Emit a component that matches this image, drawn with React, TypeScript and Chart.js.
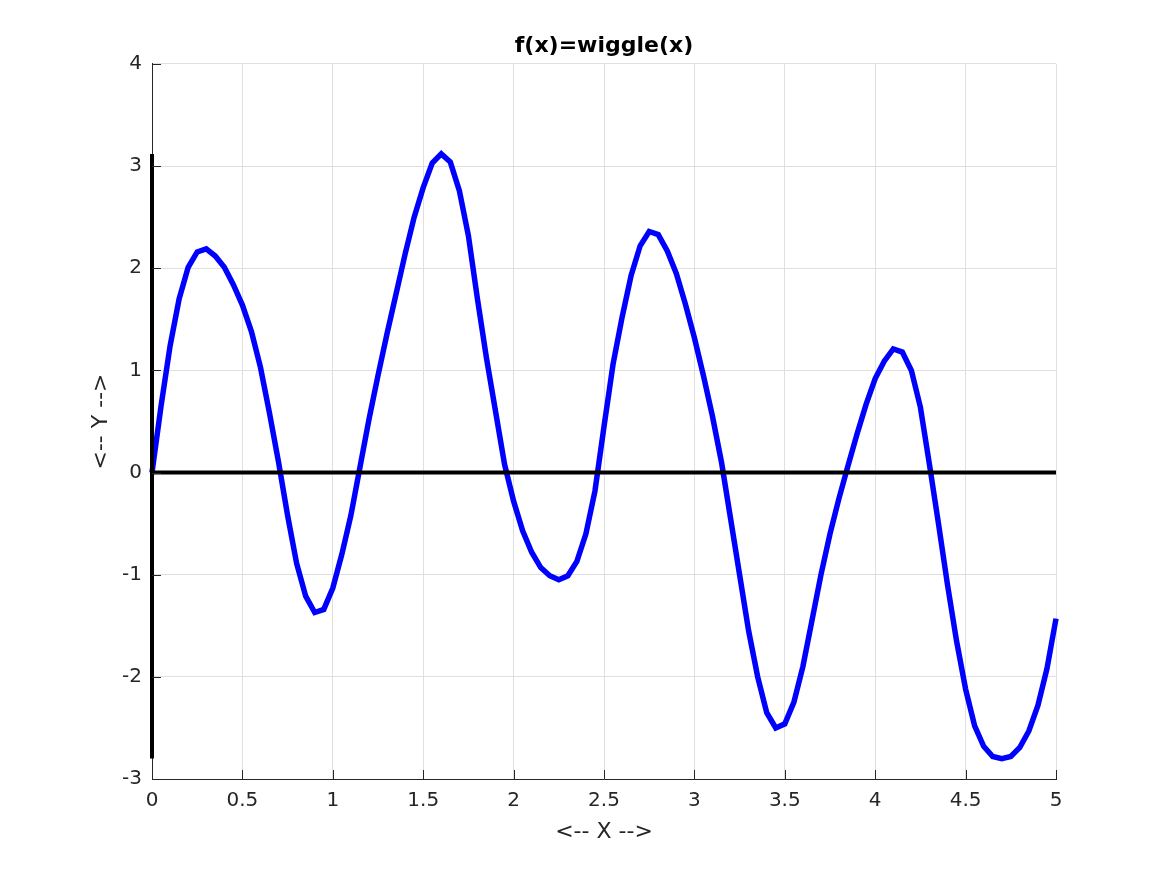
import React, { useEffect, useRef } from "react";
import { Chart, registerables } from "chart.js";

Chart.register(...registerables);

const xValues = [
  0, 0.05, 0.1, 0.15, 0.2, 0.25, 0.3, 0.35, 0.4, 0.45,
  0.5, 0.55, 0.6, 0.65, 0.7, 0.75, 0.8, 0.85, 0.9, 0.95,
  1, 1.05, 1.1, 1.15, 1.2, 1.25, 1.3, 1.35, 1.4, 1.45,
  1.5, 1.55, 1.6, 1.65, 1.7, 1.75, 1.8, 1.85, 1.9, 1.95,
  2, 2.05, 2.1, 2.15, 2.2, 2.25, 2.3, 2.35, 2.4, 2.45,
  2.5, 2.55, 2.6, 2.65, 2.7, 2.75, 2.8, 2.85, 2.9, 2.95,
  3, 3.05, 3.1, 3.15, 3.2, 3.25, 3.3, 3.35, 3.4, 3.45,
  3.5, 3.55, 3.6, 3.65, 3.7, 3.75, 3.8, 3.85, 3.9, 3.95,
  4, 4.05, 4.1, 4.15, 4.2, 4.25, 4.3, 4.35, 4.4, 4.45,
  4.5, 4.55, 4.6, 4.65, 4.7, 4.75, 4.8, 4.85, 4.9, 4.95,
  5,
];

const yValues = [
  0, 0.65, 1.24, 1.7, 2.01, 2.16, 2.19, 2.12, 2.01, 1.84,
  1.64, 1.38, 1.03, 0.58, 0.1, -0.42, -0.89, -1.21, -1.37, -1.34,
  -1.13, -0.8, -0.42, 0.05, 0.52, 0.95, 1.36, 1.75, 2.14, 2.5,
  2.79, 3.03, 3.12, 3.04, 2.76, 2.32, 1.7, 1.12, 0.6, 0.08,
  -0.28, -0.57, -0.78, -0.93, -1.01, -1.05, -1.01, -0.87, -0.6, -0.18,
  0.45, 1.06, 1.52, 1.93, 2.22, 2.36, 2.33, 2.17, 1.95, 1.65,
  1.32, 0.95, 0.55, 0.1, -0.45, -1.0, -1.55, -2.0, -2.35, -2.5,
  -2.46, -2.25, -1.9, -1.45, -1.0, -0.6, -0.25, 0.07, 0.38, 0.67,
  0.92, 1.09, 1.21, 1.18, 1.0, 0.64, 0.08, -0.5, -1.1, -1.65,
  -2.12, -2.48, -2.68, -2.78, -2.8, -2.78, -2.69, -2.53, -2.28, -1.92,
  -1.43,
];

const xTicks = [0, 0.5, 1, 1.5, 2, 2.5, 3, 3.5, 4, 4.5, 5];
const xTickLabels = ["0", "0.5", "1", "1.5", "2", "2.5", "3", "3.5", "4", "4.5", "5"];
const yTicks = [-3, -2, -1, 0, 1, 2, 3, 4];
const yTickLabels = ["-3", "-2", "-1", "0", "1", "2", "3", "4"];

const titleText = "f(x)=wiggle(x)";
const xLabelText = "<-- X -->";
const yLabelText = "<-- Y -->";

const FONT = "'DejaVu Sans', 'Noto Sans', sans-serif";
const AXIS_COLOR = "#262626";
const GRID_COLOR = "#dfdfdf";

const inwardTicks = {
  id: "inwardTicks",
  afterDraw(chart: any) {
    const { ctx, chartArea, scales } = chart;
    const xs = scales.x;
    const ys = scales.y;
    const len = 9;
    ctx.save();
    ctx.strokeStyle = AXIS_COLOR;
    ctx.lineWidth = 1;
    ctx.beginPath();
    xTicks.forEach((v) => {
      const px = Math.round(xs.getPixelForValue(v)) + 0.5;
      ctx.moveTo(px, chartArea.bottom);
      ctx.lineTo(px, chartArea.bottom - len);
    });
    yTicks.forEach((v) => {
      const py = Math.round(ys.getPixelForValue(v)) + 0.5;
      ctx.moveTo(chartArea.left, py);
      ctx.lineTo(chartArea.left + len, py);
    });
    ctx.stroke();
    ctx.restore();
  },
};

export default function App() {
  const canvasRef = useRef<HTMLCanvasElement | null>(null);

  useEffect(() => {
    const canvas = canvasRef.current;
    if (!canvas) return;

    const curve = xValues.map((x, i) => ({ x, y: yValues[i] }));
    const xMin = xValues[0];
    const xMax = xValues[xValues.length - 1];
    const yMin = Math.min(...yValues);
    const yMax = Math.max(...yValues);

    const chart = new Chart(canvas, {
      type: "line",
      data: {
        datasets: [
          {
            data: [
              { x: xMin, y: 0 },
              { x: xMax, y: 0 },
            ],
            borderColor: "#000000",
            borderWidth: 4,
            pointRadius: 0,
            fill: false,
            clip: false as any,
            order: 0,
          },
          {
            data: [
              { x: 0, y: yMin },
              { x: 0, y: yMax },
            ],
            borderColor: "#000000",
            borderWidth: 4,
            pointRadius: 0,
            fill: false,
            clip: false as any,
            order: 1,
          },
          {
            data: curve,
            borderColor: "#0000ff",
            borderWidth: 5.5,
            borderJoinStyle: "miter",
            pointRadius: 0,
            fill: false,
            tension: 0,
            clip: false as any,
            order: 2,
          },
        ],
      },
      options: {
        responsive: false,
        animation: false,
        devicePixelRatio: 1,
        layout: { padding: { left: 0, right: 111, top: 0, bottom: 0 } },
        plugins: {
          legend: { display: false },
          tooltip: { enabled: false },
          title: {
            display: true,
            fullSize: false,
            text: titleText,
            color: "#000000",
            font: { family: FONT, size: 22, weight: "bold", lineHeight: 1.2 },
            padding: { top: 33.3, bottom: 4.3 },
          },
        },
        scales: {
          x: {
            type: "linear",
            min: 0,
            max: 5,
            afterBuildTicks: (scale: any) => {
              scale.ticks = xTicks.map((v) => ({ value: v }));
            },
            afterFit: (scale: any) => {
              scale.height = 96;
            },
            ticks: {
              color: AXIS_COLOR,
              font: { family: FONT, size: 20, lineHeight: 1.2 },
              padding: 9.5,
              maxRotation: 0,
              autoSkip: false,
              callback: (value: any) => {
                const i = xTicks.indexOf(Number(value));
                return i >= 0 ? xTickLabels[i] : "";
              },
            },
            grid: {
              color: GRID_COLOR,
              lineWidth: 1,
              drawTicks: false,
            },
            border: { display: true, color: AXIS_COLOR, width: 1 },
            title: {
              display: true,
              text: xLabelText,
              color: AXIS_COLOR,
              font: { family: FONT, size: 22, lineHeight: 1.2 },
              padding: { top: 0, bottom: 29.8 },
            },
          },
          y: {
            type: "linear",
            min: -3,
            max: 4,
            afterBuildTicks: (scale: any) => {
              scale.ticks = yTicks.map((v) => ({ value: v }));
            },
            afterFit: (scale: any) => {
              scale.width = 152;
            },
            ticks: {
              color: AXIS_COLOR,
              font: { family: FONT, size: 20, lineHeight: 1.2 },
              padding: 10,
              autoSkip: false,
              callback: (value: any) => {
                const i = yTicks.indexOf(Number(value));
                return i >= 0 ? yTickLabels[i] : "";
              },
            },
            grid: {
              color: GRID_COLOR,
              lineWidth: 1,
              drawTicks: false,
            },
            border: { display: true, color: AXIS_COLOR, width: 1 },
            title: {
              display: true,
              text: yLabelText,
              color: AXIS_COLOR,
              font: { family: FONT, size: 22, lineHeight: 1.2 },
              padding: { top: 88.3, bottom: 0 },
            },
          },
        },
      } as any,
      plugins: [inwardTicks],
    });

    return () => {
      chart.destroy();
    };
  }, []);

  return (
    <div
      style={{
        position: "absolute",
        left: 0,
        top: 0,
        width: 1167,
        height: 875,
        background: "#ffffff",
      }}
    >
      <canvas ref={canvasRef} width={1167} height={875} style={{ display: "block" }} />
    </div>
  );
}
